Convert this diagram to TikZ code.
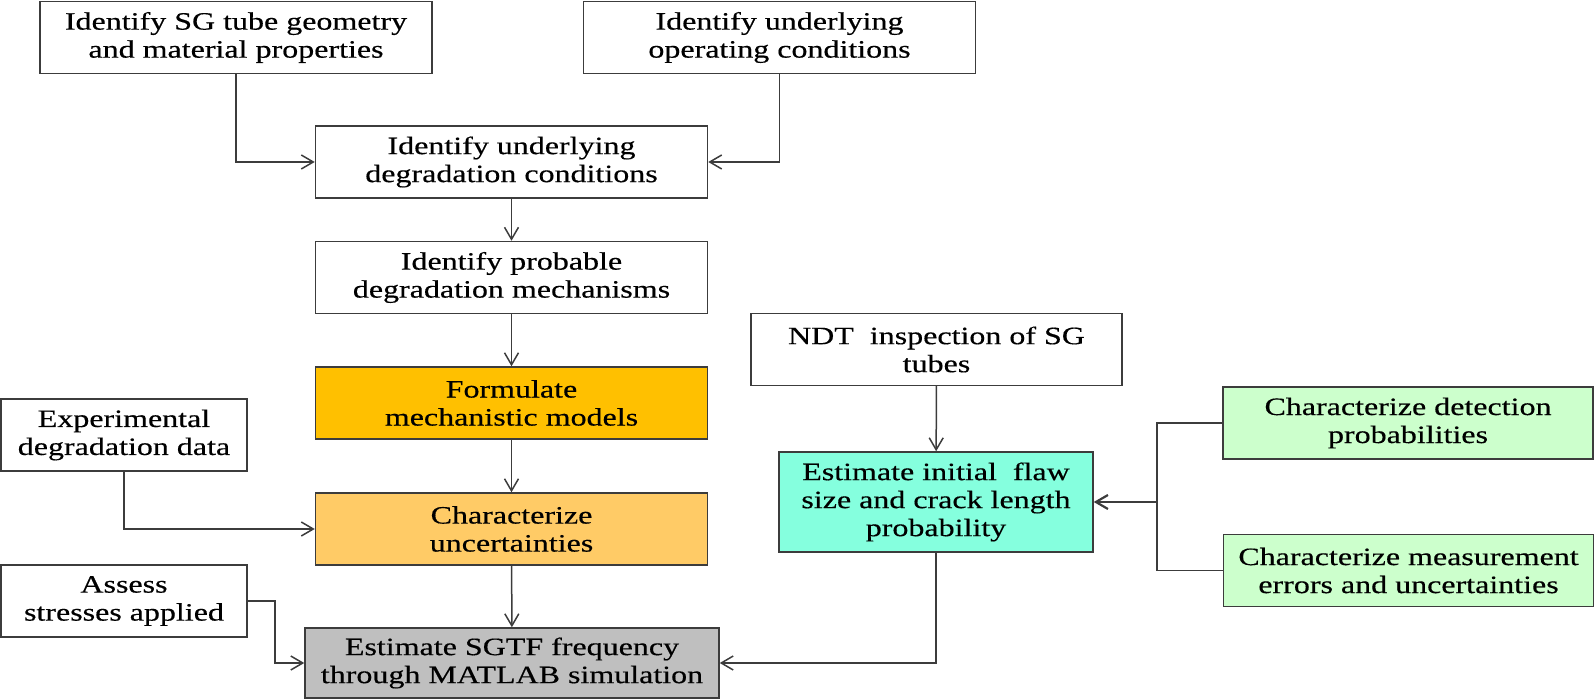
\documentclass[tikz,border=0pt]{standalone}
\usepackage{fontspec}
\setmainfont[FakeStretch=1.28,FakeBold=0.4]{Liberation Serif}
\usetikzlibrary{arrows.meta,positioning}
\definecolor{edge}{HTML}{3C3C3C}
\definecolor{gold}{HTML}{FFC000}
\definecolor{peach}{HTML}{FFCB66}
\definecolor{ash}{HTML}{BFBFBF}
\definecolor{aqua}{HTML}{85FFDE}
\definecolor{mint}{HTML}{CCFFCC}

\begin{document}
\begin{tikzpicture}[x=0.5pt,y=-0.5pt,
box/.style={draw=edge,line width=0.75pt,align=center,fill=white,inner sep=0pt,minimum height=36pt,font=\fontsize{12.5}{14}\selectfont},
wide/.style={box,minimum width=196pt},
side/.style={box,minimum width=123pt},
arr/.style={-{Straight Barb[length=6pt,width=7pt]},line width=0.75pt,color=edge}
]
\useasboundingbox (0,0) rectangle (1595,699);
% main column
\node[wide] (geom) at (236,37.5) {Identify SG tube geometry\\and material properties};
\node[wide] (oper) at (779.5,37.5) {Identify underlying\\operating conditions};
\node[wide] (cond) at (511.5,162) {Identify underlying\\degradation conditions};
\node[wide] (mech) at (511.5,277.5) {Identify probable\\degradation mechanisms};
\node[wide,fill=gold] (model) at (511.5,403) {Formulate\\mechanistic models};
\node[wide,fill=peach] (unc) at (511.5,529) {Characterize\\uncertainties};
\node[box,fill=ash,minimum width=207pt,minimum height=35pt] (sgtf) at (512,663) {Estimate SGTF frequency\\through MATLAB simulation};
% inputs on the left
\node[side] (expdata) at (124,435) {Experimental\\degradation data};
\node[side] (stress) at (124,601) {Assess\\stresses applied};
% inspection branch
\node[box,minimum width=185.5pt] (ndt) at (936.5,349.5) {NDT~ inspection of SG\\tubes};
\node[box,fill=aqua,minimum width=157pt,minimum height=50pt] (flaw) at (936,502) {Estimate initial~ flaw\\size and crack length\\probability};
\node[box,fill=mint,minimum width=185pt] (pod) at (1408,423) {Characterize detection\\probabilities};
\node[box,fill=mint,minimum width=185pt] (meas) at (1408.5,570.5) {Characterize measurement\\errors and uncertainties};
\coordinate (join) at (1157,502);

\draw[arr] (geom) |- (cond);
\draw[arr] (oper) |- (cond);
\draw[arr] (cond) -- (mech);
\draw[arr] (mech) -- (model);
\draw[arr] (model) -- (unc);
\draw[arr] (unc) -- (sgtf);
\draw[arr] (expdata) |- (unc);
\draw[arr] (stress.east) -- ++(27,0) |- (sgtf);
\draw[arr] (ndt) -- (flaw);
\draw[arr] (flaw) |- (sgtf);
\draw[edge,line width=0.75pt] (pod) -| (join) |- (meas);
\draw[arr,line width=1.1pt] (join) -- (flaw);
\end{tikzpicture}
\end{document}
